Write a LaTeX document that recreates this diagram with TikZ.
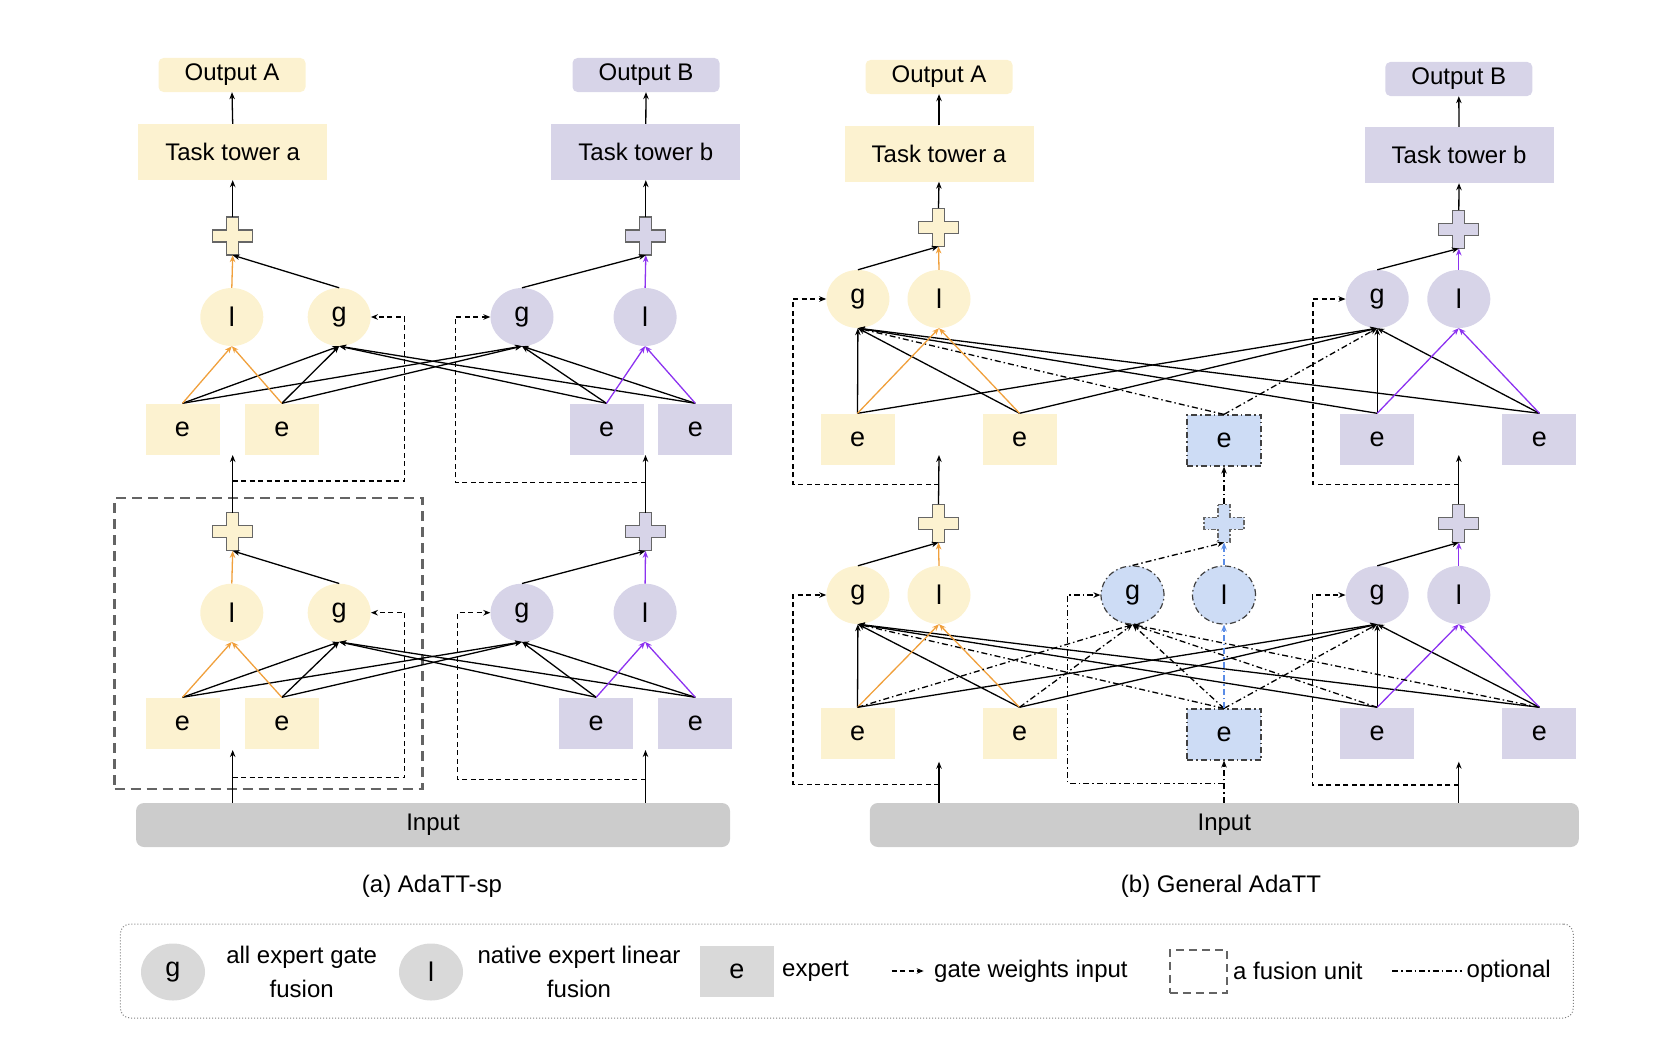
\documentclass[tikz,border=0pt]{standalone}
\usepackage{fontspec}
\setmainfont{Liberation Sans}
\usetikzlibrary{shapes.geometric,arrows.meta}

\definecolor{towA}{RGB}{252,242,208}
\definecolor{towB}{RGB}{215,212,232}
\definecolor{optC}{RGB}{205,220,245}
\definecolor{inGray}{RGB}{204,204,204}
\definecolor{keyGray}{RGB}{217,217,217}
\definecolor{linA}{RGB}{240,160,60}
\definecolor{linB}{RGB}{140,50,240}
\definecolor{linC}{RGB}{90,140,230}
\definecolor{unitGray}{RGB}{100,100,100}

% cross shaped sum node: name, position, fill, extra border style
\newcommand{\fusecross}[4]{%
  \node[minimum width=40pt, minimum height=38pt, inner sep=0pt] (#1) at (#2) {};
  \draw[shift={(#1.center)}, fill=#3, draw=gray!80!black, line width=1.2pt, #4]
    (-6,-19) -- (6,-19) -- (6,-6) -- (20,-6) -- (20,6) -- (6,6) -- (6,19)
    -- (-6,19) -- (-6,6) -- (-20,6) -- (-20,-6) -- (-6,-6) -- cycle;
}

\begin{document}
\begin{tikzpicture}[x=1pt, y=-1pt,
    font=\fontsize{24}{29}\selectfont,
    box/.style={inner sep=0pt, align=center},
    outbox/.style={box, rounded corners=5pt, minimum width=147pt, minimum height=34pt},
    towbox/.style={box, minimum width=189pt, minimum height=56pt},
    expbox/.style={box, minimum width=74pt, minimum height=51pt, font=\fontsize{27}{30}\selectfont},
    fusnode/.style={ellipse, inner sep=0pt, minimum width=63pt, minimum height=58pt, font=\fontsize{27}{30}\selectfont},
    inbox/.style={box, rounded corners=8pt, fill=inGray, minimum height=44pt},
    arr/.style={line width=1.3pt, -{Stealth[length=7pt,width=5.5pt]}},
    arrA/.style={arr, linA},
    arrB/.style={arr, linB},
    gatew/.style={arr, dash pattern=on 5pt off 3.5pt},
    optline/.style={line width=1.3pt, dash pattern=on 6pt off 3pt on 1.5pt off 3pt},
    optl/.style={optline, -{Stealth[length=7pt,width=5.5pt]}},
    arrC/.style={optl, linC},
    optbox/.style={draw=black!75, line width=1.2pt, dash pattern=on 6pt off 3pt on 1.5pt off 3pt},
    unitbox/.style={draw=unitGray, line width=2.2pt, dash pattern=on 10pt off 6pt}]

  \useasboundingbox (0,0) rectangle (1669,1041);

  % ---------------- (a) AdaTT-sp
  \node[outbox, fill=towA] (spOutA) at (232,75) {Output A};
  \node[towbox, fill=towA] (spTowA) at (232.7,152) {Task tower a};
  \node[outbox, fill=towB] (spOutB) at (646,75) {Output B};
  \node[towbox, fill=towB] (spTowB) at (645.8,152) {Task tower b};

  \fusecross{spPlusAu}{232.7,236}{towA}{}
  \fusecross{spPlusBu}{645.8,236}{towB}{}
  \fusecross{spPlusAd}{232.7,531.7}{towA}{}
  \fusecross{spPlusBd}{645.5,531.7}{towB}{}

  \foreach \lv/\fy/\ey/\bx in {u/317/429/606.5, d/612.7/723/596.2} {
    \node[fusnode, fill=towA] (spLA\lv) at (231.8,\fy) {l};
    \node[fusnode, fill=towA] (spGA\lv) at (339.2,\fy) {g};
    \node[fusnode, fill=towB] (spGB\lv) at (522,\fy) {g};
    \node[fusnode, fill=towB] (spLB\lv) at (645.1,\fy) {l};
    \node[expbox, fill=towA] (spEA1\lv) at (182.5,\ey) {e};
    \node[expbox, fill=towA] (spEA2\lv) at (281.8,\ey) {e};
    \node[expbox, fill=towB] (spEB1\lv) at (\bx,\ey) {e};
    \node[expbox, fill=towB] (spEB2\lv) at (695.3,\ey) {e};
  }

  \node[inbox, minimum width=594pt] (spIn) at (433,825) {Input};
  \node (spCap) at (432,886) {(a) AdaTT-sp};
  \node[unitbox, minimum width=308pt, minimum height=291pt] (spUnit) at (268.5,643.5) {};

  \foreach \lv in {u,d} {
    \foreach \e in {EA1,EA2,EB1,EB2} {
      \draw[arr] (sp\e\lv.north) -- (spGA\lv.south);
      \draw[arr] (sp\e\lv.north) -- (spGB\lv.south);
    }
    \draw[arrA] (spEA1\lv.north) -- (spLA\lv.south);
    \draw[arrA] (spEA2\lv.north) -- (spLA\lv.south);
    \draw[arrB] (spEB1\lv.north) -- (spLB\lv.south);
    \draw[arrB] (spEB2\lv.north) -- (spLB\lv.south);
    \draw[arrA] (spLA\lv.north) -- (spPlusA\lv.south);
    \draw[arr] (spGA\lv.north) -- (spPlusA\lv.south);
    \draw[arrB] (spLB\lv.north) -- (spPlusB\lv.south);
    \draw[arr] (spGB\lv.north) -- (spPlusB\lv.south);
  }

  \draw[arr] (spPlusAu.north) -- (spTowA.south);
  \draw[arr] (spTowA.north) -- (spOutA.south);
  \draw[arr] (spPlusBu.north) -- (spTowB.south);
  \draw[arr] (spTowB.north) -- (spOutB.south);

  \coordinate (spGapAu) at (232.7,455);
  \coordinate (spGapAd) at (232.7,750);
  \coordinate (spGapBu) at (645.5,455);
  \coordinate (spGapBd) at (645.5,750);
  \draw[arr] (spPlusAd.north) -- (spGapAu);
  \draw[arr] (spPlusBd.north) -- (spGapBu);
  \draw[arr] (spIn.north -| spGapAd) -- (spGapAd);
  \draw[arr] (spIn.north -| spGapBd) -- (spGapBd);

  % gate weights
  \coordinate (spJAu) at (232.7,481);   \coordinate (spKAu) at (404.7,317);
  \coordinate (spJAd) at (232.7,777.7); \coordinate (spKAd) at (404.7,612.7);
  \coordinate (spJBu) at (645.5,482.7); \coordinate (spKBu) at (455.3,317);
  \coordinate (spJBd) at (645.5,779.3); \coordinate (spKBd) at (457.3,612.7);
  \draw[gatew] (spJAu) -| (spKAu) -- (spGAu.east);
  \draw[gatew] (spJAd) -| (spKAd) -- (spGAd.east);
  \draw[gatew] (spJBu) -| (spKBu) -- (spGBu.west);
  \draw[gatew] (spJBd) -| (spKBd) -- (spGBd.west);

  % ---------------- (b) General AdaTT
  \node[outbox, fill=towA] (geOutA) at (939,77) {Output A};
  \node[towbox, fill=towA] (geTowA) at (939,153.5) {Task tower a};
  \node[outbox, fill=towB] (geOutB) at (1458.8,79) {Output B};
  \node[towbox, fill=towB] (geTowB) at (1459,155) {Task tower b};

  \fusecross{gePlusAu}{938.5,227.3}{towA}{}
  \fusecross{gePlusBu}{1458.8,229.3}{towB}{}
  \fusecross{gePlusAd}{938.5,523.3}{towA}{}
  \fusecross{gePlusCd}{1224,523.3}{optC}{dash pattern=on 5pt off 2pt on 1.5pt off 2pt}
  \fusecross{gePlusBd}{1458.8,523.3}{towB}{}

  \foreach \lv/\fy/\ey in {u/299/439, d/595/733} {
    \node[fusnode, fill=towA] (geGA\lv) at (857.9,\fy) {g};
    \node[fusnode, fill=towA] (geLA\lv) at (939,\fy) {l};
    \node[fusnode, fill=towB] (geGB\lv) at (1377.2,\fy) {g};
    \node[fusnode, fill=towB] (geLB\lv) at (1458.8,\fy) {l};
    \node[expbox, fill=towA] (geEA1\lv) at (857.5,\ey) {e};
    \node[expbox, fill=towA] (geEA2\lv) at (1019.5,\ey) {e};
    \node[expbox, fill=optC, optbox] (geEC\lv) at (1224,\ey+1.5) {e};
    \node[expbox, fill=towB] (geEB1\lv) at (1377.2,\ey) {e};
    \node[expbox, fill=towB] (geEB2\lv) at (1539.4,\ey) {e};
  }
  \node[fusnode, fill=optC, optbox] (geGCd) at (1132.5,595) {g};
  \node[fusnode, fill=optC, optbox] (geLCd) at (1224,595) {l};

  \node[inbox, minimum width=709pt] (geIn) at (1224.3,825) {Input};
  \node (geCap) at (1221,886) {(b) General AdaTT};

  \foreach \lv in {u,d} {
    \foreach \e in {EA1,EA2,EB1,EB2} {
      \draw[arr] (ge\e\lv.north) -- (geGA\lv.south);
      \draw[arr] (ge\e\lv.north) -- (geGB\lv.south);
    }
    \draw[optl] (geEC\lv.north) -- (geGA\lv.south);
    \draw[optl] (geEC\lv.north) -- (geGB\lv.south);
    \draw[arrA] (geEA1\lv.north) -- (geLA\lv.south);
    \draw[arrA] (geEA2\lv.north) -- (geLA\lv.south);
    \draw[arrB] (geEB1\lv.north) -- (geLB\lv.south);
    \draw[arrB] (geEB2\lv.north) -- (geLB\lv.south);
    \draw[arrA] (geLA\lv.north) -- (gePlusA\lv.south);
    \draw[arr] (geGA\lv.north) -- (gePlusA\lv.south);
    \draw[arrB] (geLB\lv.north) -- (gePlusB\lv.south);
    \draw[arr] (geGB\lv.north) -- (gePlusB\lv.south);
  }
  \foreach \e in {EA1,EA2,EC,EB1,EB2}
    \draw[optl] (ge\e d.north) -- (geGCd.south);
  \draw[arrC] (geECd.north) -- (geLCd.south);
  \draw[optl] (geGCd.north) -- (gePlusCd.south);
  \draw[arrC] (geLCd.north) -- (gePlusCd.south);
  \draw[optl] (gePlusCd.north) -- (geECu.south);
  \draw[optl] (geIn.north -| geECd) -- (geECd.south);

  \draw[arr] (gePlusAu.north) -- (geTowA.south);
  \draw[arr] (geTowA.north) -- (geOutA.south);
  \draw[arr] (gePlusBu.north) -- (geTowB.south);
  \draw[arr] (geTowB.north) -- (geOutB.south);

  \coordinate (geGapAu) at (939,455);
  \coordinate (geGapAd) at (939,761.7);
  \coordinate (geGapBu) at (1458.8,455);
  \coordinate (geGapBd) at (1458.8,761.7);
  \draw[arr] (gePlusAd.north) -- (geGapAu);
  \draw[arr] (gePlusBd.north) -- (geGapBu);
  \draw[arr] (geIn.north -| geGapAd) -- (geGapAd);
  \draw[arr] (geIn.north -| geGapBd) -- (geGapBd);

  % gate weights
  \coordinate (geJAu) at (939,484.3);    \coordinate (geKAu) at (793,299);
  \coordinate (geJAd) at (939,784.3);    \coordinate (geKAd) at (793,595);
  \coordinate (geJCd) at (1224,783.3);   \coordinate (geKCd) at (1067.6,595);
  \coordinate (geJBu) at (1458.8,484.3); \coordinate (geKBu) at (1313,299);
  \coordinate (geJBd) at (1458.8,785);   \coordinate (geKBd) at (1312.4,595);
  \draw[gatew] (geJAu) -| (geKAu) -- (geGAu.west);
  \draw[gatew] (geJAd) -| (geKAd) -- (geGAd.west);
  \draw[optl] (geJCd) -| (geKCd) -- (geGCd.west);
  \draw[gatew] (geJBu) -| (geKBu) -- (geGBu.west);
  \draw[gatew] (geJBd) -| (geKBd) -- (geGBd.west);

  % ---------------- legend
  \node[draw=gray, dotted, line width=1pt, rounded corners=10pt, minimum width=1453pt, minimum height=94pt] (keyBox) at (846.8,971) {};
  \node[fusnode, fill=keyGray, minimum width=64pt, minimum height=57pt] (keyG) at (173,972) {g};
  \node[box, font=\fontsize{24}{34}\selectfont] (keyGtxt) at (301.7,972) {all expert gate\\fusion};
  \node[fusnode, fill=keyGray, minimum width=64pt, minimum height=57pt] (keyL) at (431,972) {l};
  \node[box, font=\fontsize{24}{34}\selectfont] (keyLtxt) at (579,972) {native expert linear\\fusion};
  \node[expbox, fill=keyGray] (keyE) at (736.8,971.3) {e};
  \node[box, anchor=west] (keyEtxt) at (782,971) {expert};
  \coordinate (keyW0) at (891.6,971);
  \coordinate (keyW1) at (923.7,971);
  \draw[gatew] (keyW0) -- (keyW1);
  \node[box, anchor=west] (keyWtxt) at (934,971) {gate weights input};
  \node[unitbox, line width=2pt, dash pattern=on 8pt off 5pt, minimum width=57pt, minimum height=43pt] (keyU) at (1198.4,971.4) {};
  \node[box, anchor=west] (keyUtxt) at (1233,971) {a fusion unit};
  \coordinate (keyO0) at (1392,971);
  \coordinate (keyO1) at (1461.7,971);
  \draw[optline] (keyO0) -- (keyO1);
  \node[box, anchor=west] (keyOtxt) at (1466.5,971) {optional};
\end{tikzpicture}
\end{document}
